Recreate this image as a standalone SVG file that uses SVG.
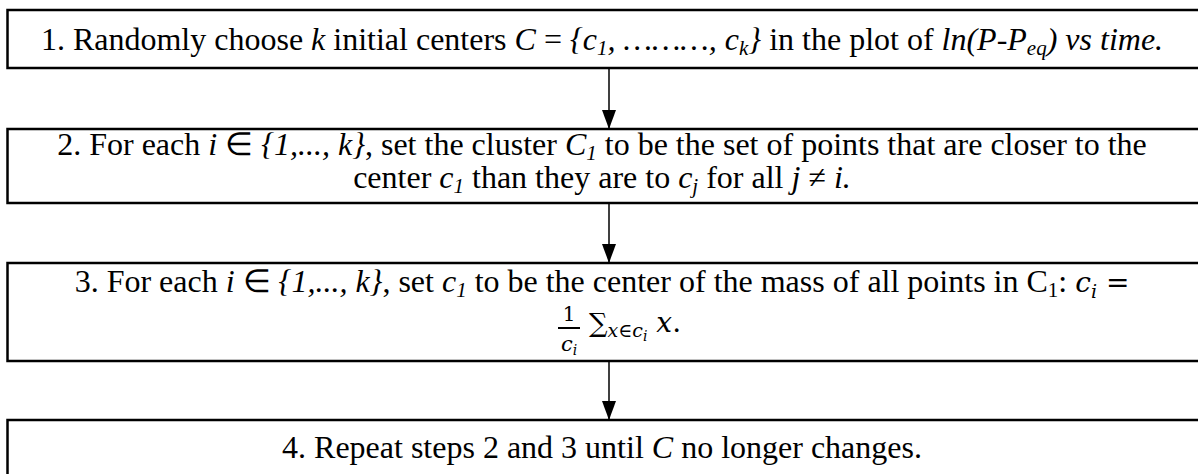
<svg xmlns="http://www.w3.org/2000/svg" width="1198" height="474" viewBox="0 0 1198 474">
<style>
.box{fill:#fff;stroke:#000;stroke-width:2.5}
.t{font-family:"Liberation Serif","Times New Roman",serif;font-size:32px;fill:#000}
.i{font-style:italic}
.m{font-family:"DejaVu Serif",serif;font-style:italic;fill:#000}
.mu{font-family:"DejaVu Serif",serif;font-style:normal;fill:#000}
.con line{stroke:#000;stroke-width:1.5}
</style>
<defs>
<marker id="ah" markerUnits="userSpaceOnUse" markerWidth="20" markerHeight="16" refX="19" refY="8" orient="auto" viewBox="0 0 20 16">
<path d="M0,1 L19,8 L0,15 Z" fill="#000"/>
</marker>
</defs>
<rect width="1198" height="474" fill="#fff"/>
<g id="step1">
<rect class="box" x="7.5" y="10" width="1200" height="58"/>
<text class="t" x="602" y="50" text-anchor="middle">1. Randomly choose <tspan class="i">k</tspan> initial centers <tspan class="i">C</tspan> = <tspan class="i">{c<tspan font-size="21" dy="5">1</tspan><tspan dy="-5">, ………, c</tspan><tspan font-size="21" dy="5">k</tspan><tspan dy="-5">}</tspan></tspan> in the plot of <tspan class="i">ln(P-P<tspan font-size="21" dy="5">eq</tspan><tspan dy="-5">) vs time.</tspan></tspan></text>
</g>
<g id="step2">
<rect class="box" x="7.5" y="129" width="1200" height="74"/>
<text class="t" x="602" y="155" text-anchor="middle">2. For each <tspan class="i">i</tspan> ∈ <tspan class="i">{1,..., k}</tspan>, set the cluster <tspan class="i">C<tspan font-size="21" dy="5">1</tspan></tspan><tspan dy="-5"> to be the set of points that are closer to the</tspan></text>
<text class="t" x="602" y="188" text-anchor="middle">center <tspan class="i">c<tspan font-size="21" dy="5">1</tspan></tspan><tspan dy="-5"> than they are to </tspan><tspan class="i">c<tspan font-size="21" dy="5">j</tspan></tspan><tspan dy="-5">  for all </tspan><tspan class="i">j</tspan> ≠ <tspan class="i">i.</tspan></text>
</g>
<g id="step3">
<rect class="box" x="7.5" y="263" width="1200" height="98"/>
<text class="t" x="602" y="292" text-anchor="middle">3. For each <tspan class="i">i</tspan> ∈ <tspan class="i">{1,..., k}</tspan>, set <tspan class="i">c<tspan font-size="21" dy="5">1</tspan></tspan><tspan dy="-5"> to be the center of the mass of all points in C</tspan><tspan font-size="21" dy="5">1</tspan><tspan dy="-5">: </tspan><tspan class="m" font-size="28">c</tspan><tspan class="m" font-size="19" dy="6">i</tspan><tspan class="mu" font-size="28" dy="-6"> =</tspan></text>
<text class="mu" x="569" y="321" font-size="20" text-anchor="middle">1</text>
<line x1="558" y1="328" x2="580" y2="328" stroke="#000" stroke-width="2"/>
<text class="m" x="569" y="351" font-size="21" text-anchor="middle">c<tspan font-size="14" dy="4">i</tspan></text>
<text class="mu" x="589" y="332" font-size="26">∑<tspan class="m" font-size="19" dy="5">x∈c</tspan><tspan class="m" font-size="14" dy="4">i</tspan><tspan class="m" font-size="28" dy="-9"> x</tspan><tspan class="mu" font-size="28">.</tspan></text>
</g>
<g id="step4">
<rect class="box" x="7.5" y="420" width="1200" height="70"/>
<text class="t" x="602" y="458" text-anchor="middle">4. Repeat steps 2 and 3 until <tspan class="i">C</tspan> no longer changes.</text>
</g>
<g id="connectors" class="con">
<line x1="609" y1="69" x2="609" y2="129" marker-end="url(#ah)"/>
<line x1="609" y1="204" x2="609" y2="263" marker-end="url(#ah)"/>
<line x1="609" y1="362" x2="609" y2="420" marker-end="url(#ah)"/>
</g>
</svg>
